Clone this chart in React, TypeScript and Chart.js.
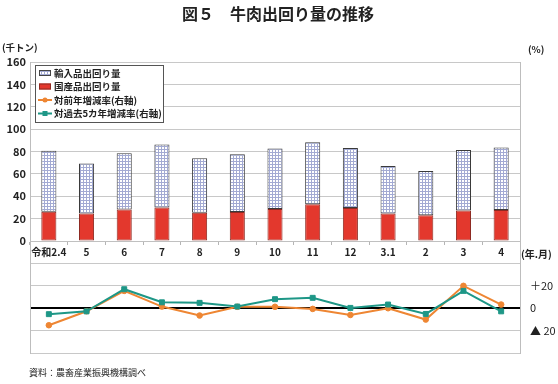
import React, { useEffect, useRef } from "react";
import { Chart, registerables } from "chart.js";

Chart.register(...registerables);

const FONT = '"Noto Sans CJK JP", "Noto Sans", sans-serif';

const categories = ["令和2.4", "5", "6", "7", "8", "9", "10", "11", "12", "3.1", "2", "3", "4"];
const domestic = [26.2, 24.7, 28.3, 30.1, 25.3, 25.9, 28.6, 32.8, 29.5, 24.7, 23.0, 27.4, 27.7];
const imported = [54.5, 44.7, 50.1, 56.3, 48.6, 51.6, 54.2, 55.4, 53.6, 42.3, 39.6, 53.9, 56.0];
const yoy = [-15.2, -2.7, 15.5, 1.5, -6.5, 1.3, 1.3, -0.6, -6.0, 0.0, -10.1, 20.0, 3.3];
const vs5yr = [-5.3, -2.8, 17.0, 5.3, 4.8, 1.5, 8.1, 9.3, 0.3, 3.3, -5.1, 15.5, -2.8];

const seriesLabels = ["輸入品出回り量", "国産品出回り量", "対前年増減率(右軸)", "対過去5カ年増減率(右軸)"];
const rightTickValues = [20, 0, -20];
const rightTickLabels = ["＋20", "0", "▲ 20"];

const titleText = "図５　牛肉出回り量の推移";
const leftUnit = "(千トン)";
const rightUnit = "(%)";
const xUnit = "(年.月)";
const sourceText = "資料：農畜産業振興機構調べ";

const RED = "#E3382D";
const ORANGE = "#EE8633";
const TEAL = "#1E9787";

export default function App() {
  const ref = useRef<HTMLCanvasElement | null>(null);

  useEffect(() => {
    const canvas = ref.current!;
    const ctx = canvas.getContext("2d")!;
    const pc = document.createElement("canvas");
    pc.width = 3;
    pc.height = 3;
    const p = pc.getContext("2d")!;
    p.fillStyle = "#ffffff";
    p.fillRect(0, 0, 3, 3);
    p.fillStyle = "#a3aad3";
    p.fillRect(0, 2, 3, 1);
    p.fillRect(2, 0, 1, 3);
    const pattern = ctx.createPattern(pc, "repeat")!;

    const textPlugin = {
      id: "texts",
      afterDraw(chart: any) {
        const c = chart.ctx;
        const area = chart.chartArea;
        c.save();
        c.fillStyle = "#222";
        c.textBaseline = "middle";
        c.font = `bold 16px ${FONT}`;
        c.textAlign = "center";
        c.fillText(titleText, 278, 14);
        c.font = `bold 9.5px ${FONT}`;
        c.textAlign = "left";
        c.fillText(leftUnit, 2, 47);
        c.fillText(rightUnit, 528, 49);
        c.font = `bold 10px ${FONT}`;
        c.fillText(xUnit, area.right + 1, 254);
        c.font = `9px ${FONT}`;
        c.fillText(sourceText, 29, 373);

        // legend
        const lx = 35.5, ly = 65.5, lw = 128, lh = 57;
        c.fillStyle = "#ffffff";
        c.fillRect(lx, ly, lw, lh);
        c.strokeStyle = "#555";
        c.lineWidth = 1;
        c.strokeRect(lx, ly, lw, lh);
        const rows = [73, 86.5, 100, 113.5];
        c.font = `bold 9.5px ${FONT}`;
        rows.forEach((ry, i) => {
          if (i === 0 || i === 1) {
            c.fillStyle = i === 0 ? pattern : RED;
            c.fillRect(39, ry - 3, 12, 6);
            c.strokeStyle = i === 0 ? "#444" : "#8E2A22";
            c.strokeRect(39.5, ry - 2.5, 11, 5);
          } else {
            const col = i === 2 ? ORANGE : TEAL;
            c.strokeStyle = col;
            c.lineWidth = 2;
            c.beginPath();
            c.moveTo(38, ry);
            c.lineTo(52, ry);
            c.stroke();
            c.fillStyle = col;
            if (i === 2) {
              c.beginPath();
              c.arc(45, ry, 2.5, 0, Math.PI * 2);
              c.fill();
            } else {
              c.fillRect(42.5, ry - 2.5, 5, 5);
            }
            c.lineWidth = 1;
          }
          c.fillStyle = "#222";
          c.fillText(seriesLabels[i], 54, ry);
        });
        c.restore();
      },
    };

    const chart = new Chart(ctx, {
      type: "bar",
      data: {
        labels: categories,
        datasets: [
          {
            type: "line",
            label: seriesLabels[3],
            data: vs5yr,
            yAxisID: "y2",
            borderColor: TEAL,
            backgroundColor: TEAL,
            borderWidth: 2,
            pointStyle: "rect",
            pointRadius: 3.5,
            pointBorderWidth: 1,
            order: 0,
          } as any,
          {
            type: "line",
            label: seriesLabels[2],
            data: yoy,
            yAxisID: "y2",
            borderColor: ORANGE,
            backgroundColor: ORANGE,
            borderWidth: 2,
            pointStyle: "circle",
            pointRadius: 2.8,
            pointBorderWidth: 1,
            order: 0,
          } as any,
          {
            type: "bar",
            label: seriesLabels[1],
            data: domestic,
            yAxisID: "y",
            backgroundColor: RED,
            borderColor: "#8E2A22",
            borderWidth: 1,
            borderSkipped: false,
            categoryPercentage: 1,
            barPercentage: 0.4,
            order: 1,
            stack: "s",
          } as any,
          {
            type: "bar",
            label: seriesLabels[0],
            data: imported,
            yAxisID: "y",
            backgroundColor: pattern,
            borderColor: "#3a3a3a",
            borderWidth: 1,
            borderSkipped: false,
            categoryPercentage: 1,
            barPercentage: 0.4,
            order: 2,
            stack: "s",
          } as any,
        ],
      },
      options: {
        animation: false,
        responsive: false,
        devicePixelRatio: 1,
        layout: { padding: { top: 62, bottom: 31, left: 0, right: 0 } },
        plugins: {
          legend: { display: false },
          tooltip: { enabled: false },
          title: { display: false },
        },
        scales: {
          x: {
            stacked: true,
            position: { y: 0 } as any,
            offset: true,
            grid: {
              display: true,
              drawOnChartArea: false,
              drawTicks: true,
              tickLength: 3,
              color: "#b5b5b5",
              offset: true,
            },
            border: { display: true, color: "#c0c0c0" },
            ticks: {
              color: "#222",
              font: { size: 10, weight: "bold", family: FONT },
              padding: 2,
              maxRotation: 0,
              autoSkip: false,
            },
          },
          y: {
            stacked: true,
            position: "left",
            min: -100,
            max: 160,
            ticks: {
              stepSize: 20,
              color: "#222",
              font: { size: 11, weight: "bold", family: FONT },
              padding: 4,
              callback: (v: any) => (Number(v) >= 0 ? String(v) : ""),
            },
            grid: { color: "#c8c8c8", drawTicks: false },
            border: { display: true, color: "#bdbdbd" },
            afterFit: (s: any) => {
              s.width = 30;
            },
          },
          y2: {
            position: "right",
            min: -40,
            max: 220,
            ticks: {
              stepSize: 20,
              color: "#222",
              font: { size: 11, family: FONT },
              padding: 10,
              callback: (v: any) => {
                const i = rightTickValues.indexOf(Number(v));
                return i >= 0 ? rightTickLabels[i] : "";
              },
            },
            grid: {
              drawTicks: false,
              color: (c: any) => (c.tick && c.tick.value === 0 ? "#000000" : "rgba(0,0,0,0)"),
              lineWidth: (c: any) => (c.tick && c.tick.value === 0 ? 2 : 1),
            },
            border: { display: true, color: "#bdbdbd" },
            afterFit: (s: any) => {
              s.width = 38;
            },
          },
        },
      } as any,
      plugins: [textPlugin],
    });
    return () => chart.destroy();
  }, []);

  return (
    <div style={{ position: "absolute", left: 0, top: 0, width: 558, height: 384, background: "#fff" }}>
      <canvas ref={ref} width={558} height={384} style={{ display: "block" }} />
    </div>
  );
}
